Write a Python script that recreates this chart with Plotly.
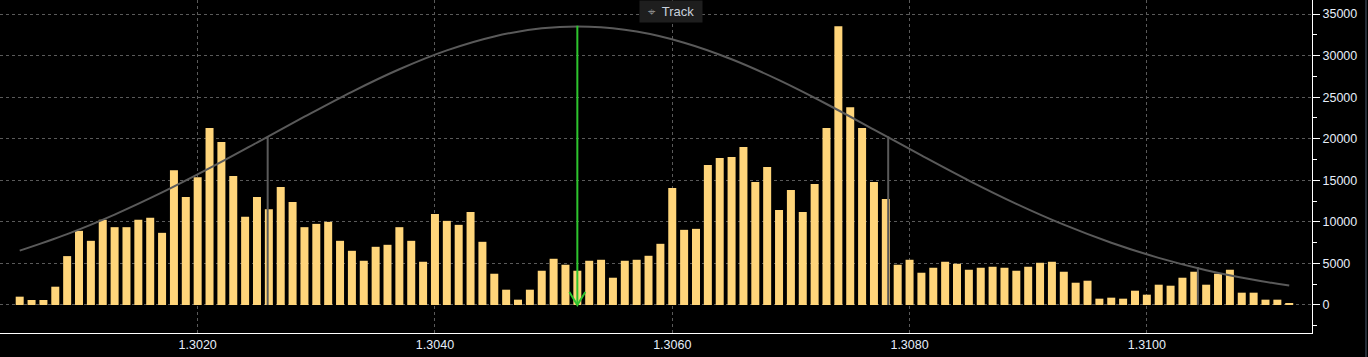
import plotly.graph_objects as go

# ---------------- data ----------------
prices = [1.3005, 1.3006, 1.3007, 1.3008, 1.3009, 1.3010, 1.3011, 1.3012, 1.3013, 1.3014,
          1.3015, 1.3016, 1.3017, 1.3018, 1.3019, 1.3020, 1.3021, 1.3022, 1.3023, 1.3024,
          1.3025, 1.3026, 1.3027, 1.3028, 1.3029, 1.3030, 1.3031, 1.3032, 1.3033, 1.3034,
          1.3035, 1.3036, 1.3037, 1.3038, 1.3039, 1.3040, 1.3041, 1.3042, 1.3043, 1.3044,
          1.3045, 1.3046, 1.3047, 1.3048, 1.3049, 1.3050, 1.3051, 1.3052, 1.3053, 1.3054,
          1.3055, 1.3056, 1.3057, 1.3058, 1.3059, 1.3060, 1.3061, 1.3062, 1.3063, 1.3064,
          1.3065, 1.3066, 1.3067, 1.3068, 1.3069, 1.3070, 1.3071, 1.3072, 1.3073, 1.3074,
          1.3075, 1.3076, 1.3077, 1.3078, 1.3079, 1.3080, 1.3081, 1.3082, 1.3083, 1.3084,
          1.3085, 1.3086, 1.3087, 1.3088, 1.3089, 1.3090, 1.3091, 1.3092, 1.3093, 1.3094,
          1.3095, 1.3096, 1.3097, 1.3098, 1.3099, 1.3100, 1.3101, 1.3102, 1.3103, 1.3104,
          1.3105, 1.3106, 1.3107, 1.3108, 1.3109, 1.3110, 1.3111, 1.3112]

volumes = [1000, 600, 600, 2200, 5880, 8920, 7720, 10240, 9360, 9360,
           10240, 10480, 8680, 16200, 13000, 15360, 21280, 19600, 15520, 10600,
           13000, 11520, 14200, 12400, 9360, 9760, 10000, 7720, 6520, 5320,
           7000, 7240, 9360, 7720, 5200, 10960, 10120, 9640, 11200, 7600,
           3760, 1840, 640, 1840, 4120, 5560, 4840, 4120, 5320, 5440,
           3280, 5320, 5440, 5920, 7360, 14080, 9040, 9160, 16840, 17680,
           17800, 19000, 14800, 16600, 11440, 13840, 11200, 14560, 21280, 33520,
           23800, 21280, 14800, 12760, 4840, 5440, 3880, 4480, 5200, 4960,
           4240, 4480, 4600, 4480, 4120, 4600, 5080, 5200, 4000, 2680,
           2920, 760, 880, 760, 1720, 1240, 2440, 2320, 3280, 4000,
           2440, 3760, 4240, 1480, 1480, 640, 640, 160]

curve_x = [1.3005, 1.3009, 1.3013, 1.3017, 1.3021, 1.3025, 1.3029, 1.3033, 1.3037, 1.3041,
           1.3045, 1.3049, 1.3053, 1.3057, 1.3061, 1.3065, 1.3069, 1.3073, 1.3077, 1.3081,
           1.3085, 1.3089, 1.3093, 1.3097, 1.3101, 1.3105, 1.3109, 1.3112]
curve_y = [6540, 8530, 10880, 13540, 16460, 19540, 22650, 25650, 28360, 30630,
           32310, 33280, 33475, 32890, 31550, 29560, 27050, 24180, 21100, 17990,
           14970, 12170, 9660, 7490, 5670, 4190, 3030, 2340]

band_x = [1.30259, 1.30782, 1.31043]
band_top = [20200, 20280, 4570]

track_x = 1.30520
track_top = 33600

x_ticks = [1.3020, 1.3040, 1.3060, 1.3080, 1.3100]
x_tick_labels = ["1.3020", "1.3040", "1.3060", "1.3080", "1.3100"]
y_ticks = [0, 5000, 10000, 15000, 20000, 25000, 30000, 35000]
y_tick_labels = ["0", "5000", "10000", "15000", "20000", "25000", "30000", "35000"]

# ---------------- style ----------------
X_RANGE = [1.300334, 1.311392]
Y_RANGE = [-3370, 36690]
BAR_COLOR = "#FFD57A"
CURVE_COLOR = "#5a5a5a"
GREEN = "#2EC42E"
GRID = "#5a5a5a"
TEXT = "#e6eefa"
FONT = "Liberation Sans"
PX_PER_X = 1312 / (X_RANGE[1] - X_RANGE[0])
PX_PER_Y = 333 / (Y_RANGE[1] - Y_RANGE[0])

fig = go.Figure()

fig.add_trace(go.Bar(x=prices, y=volumes, marker=dict(color=BAR_COLOR, line=dict(width=0)),
                     hoverinfo="skip"))

fig.add_trace(go.Scatter(x=curve_x, y=curve_y, mode="lines",
                         line=dict(color=CURVE_COLOR, width=2, shape="spline"),
                         hoverinfo="skip"))

# vertical gray lines up to curve
for bx, bt in zip(band_x, band_top):
    fig.add_trace(go.Scatter(x=[bx, bx], y=[0, bt], mode="lines",
                             line=dict(color=CURVE_COLOR, width=2), hoverinfo="skip"))

# green track line with open V arrowhead
fig.add_trace(go.Scatter(x=[track_x, track_x], y=[0, track_top], mode="lines",
                         line=dict(color=GREEN, width=2), hoverinfo="skip"))
hw = 8 / PX_PER_X
hh = 13 / PX_PER_Y
fig.add_trace(go.Scatter(x=[track_x - hw, track_x, track_x + hw], y=[hh, 0, hh], mode="lines",
                         line=dict(color=GREEN, width=2), hoverinfo="skip"))

# triangle tick markers on right axis
tri_x = X_RANGE[1] + 4 / PX_PER_X
fig.add_trace(go.Scatter(x=[tri_x] * len(y_ticks), y=y_ticks, mode="markers",
                         marker=dict(symbol="triangle-right", size=7, color="white"),
                         cliponaxis=False, hoverinfo="skip"))

fig.update_layout(
    width=1368, height=357,
    margin=dict(l=0, r=56, t=0, b=24),
    paper_bgcolor="black", plot_bgcolor="black",
    showlegend=False, bargap=0.326, hovermode=False,
    font=dict(family=FONT, size=12.5, color=TEXT),
    xaxis=dict(range=X_RANGE, tickvals=x_ticks, ticktext=x_tick_labels,
               showgrid=True, gridcolor=GRID, griddash="dot", gridwidth=1,
               showline=True, linecolor="white", linewidth=1, ticks="",
               zeroline=False, tickfont=dict(color=TEXT, size=12.5)),
    yaxis=dict(range=Y_RANGE, side="right", tickvals=y_ticks, ticktext=y_tick_labels,
               showgrid=True, gridcolor=GRID, griddash="dot", gridwidth=1,
               showline=True, linecolor="white", linewidth=1,
               ticks="outside", ticklen=7, tickcolor="white", zeroline=False,
               minor=dict(dtick=2500, tick0=0, ticks="outside", ticklen=4, tickcolor="white",
                          showgrid=False),
               tickfont=dict(color=TEXT, size=12.5)),
    annotations=[dict(text="<span style='color:#888'>⌖</span>  Track", xref="paper", yref="paper",
                      x=671 / 1312, y=1,
                      xanchor="center", yanchor="top", showarrow=False,
                      bgcolor="#1e1e1e", borderpad=3, width=56,
                      font=dict(family=FONT, size=13, color="#c8d0dc"))],
    shapes=[dict(type="line", xref="paper", yref="paper", x0=1366 / 1312, x1=1366 / 1312,
                 y0=-24 / 333, y1=1, line=dict(color="#4a5a70", width=1))],
)

fig.write_html("out.html", config={"displayModeBar": False},
               post_script="document.body.style.margin='0px';document.body.style.overflow='hidden';document.body.style.background='black';")
